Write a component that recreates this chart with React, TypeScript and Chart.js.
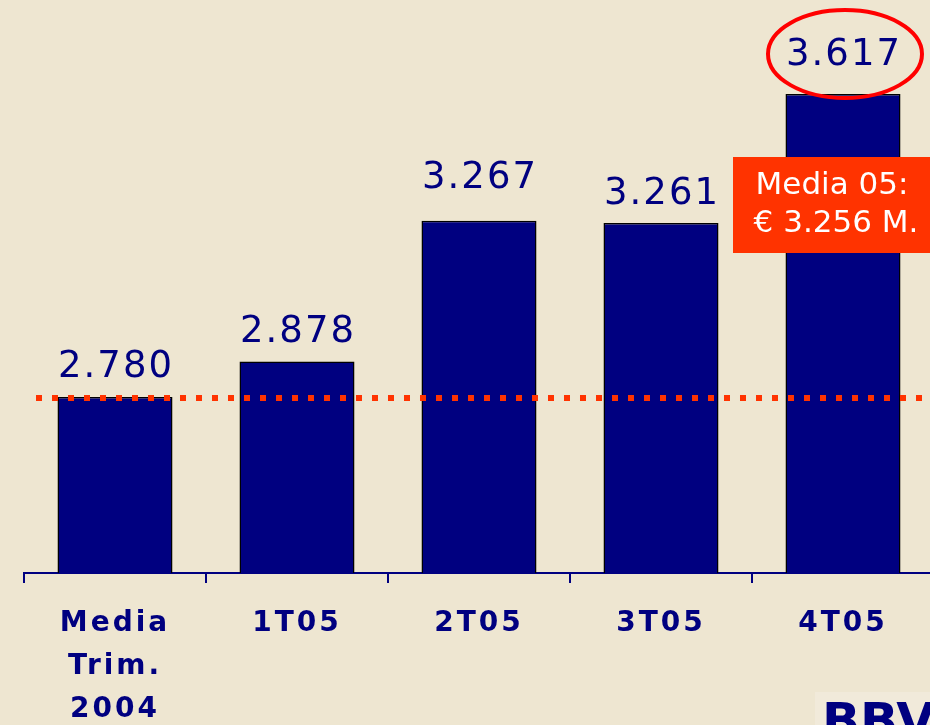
import React, { useEffect, useRef } from "react";
import { Chart, registerables } from "chart.js";

Chart.register(...registerables);

const categories: (string | string[])[] = [["Media", "Trim.", "2004"], "1T05", "2T05", "3T05", "4T05"];
const values: number[] = [2.78, 2.878, 3.267, 3.261, 3.617];
const valueLabels: string[] = ["2.780", "2.878", "3.267", "3.261", "3.617"];
const referenceLineValue = 2.78;
const noteLines: string[] = ["Media 05:", "€ 3.256 M."];
const highlightIndex = 4;
const logoText = "BBVA";

// label gap above each bar (px) – styling only
const labelGaps = [20, 20, 33, 19, 29];

const NAVY = "#000080";
const BG = "#EEE6D1";
const ORANGE = "#FF3300";

export default function App() {
  const ref = useRef<HTMLCanvasElement | null>(null);

  useEffect(() => {
    if (!ref.current) return;
    document.body.style.margin = "0";
    document.body.style.background = BG;

    const overlay = {
      id: "overlay",
      beforeDraw(chart: any) {
        const ctx = chart.ctx;
        ctx.save();
        ctx.fillStyle = BG;
        ctx.fillRect(0, 0, chart.width, chart.height);
        ctx.fillStyle = "#F1EADA";
        ctx.fillRect(815, 692, 140, 40);
        ctx.restore();
        (ctx as any).letterSpacing = "3px";
      },
      afterDatasetsDraw(chart: any) {
        const ctx = chart.ctx;
        const meta = chart.getDatasetMeta(0);
        const y = chart.scales.y;
        ctx.save();
        (ctx as any).letterSpacing = "2px";
        ctx.font = "37px 'DejaVu Sans'";
        ctx.fillStyle = NAVY;
        ctx.textAlign = "center";
        ctx.textBaseline = "alphabetic";
        meta.data.forEach((bar: any, i: number) => {
          ctx.fillText(valueLabels[i], bar.x + 1, bar.y - labelGaps[i]);
        });
        (ctx as any).letterSpacing = "0px";

        // reference dotted line
        const ly = y.getPixelForValue(referenceLineValue) + 1;
        ctx.strokeStyle = ORANGE;
        ctx.lineWidth = 6;
        ctx.setLineDash([6, 10]);
        ctx.beginPath();
        ctx.moveTo(36, ly);
        ctx.lineTo(chart.width, ly);
        ctx.stroke();
        ctx.setLineDash([]);

        // highlight ellipse
        const hb = meta.data[highlightIndex];
        ctx.strokeStyle = "#FF0000";
        ctx.lineWidth = 4;
        ctx.beginPath();
        ctx.ellipse(hb.x + 2, hb.y - 40, 77, 44, 0, 0, Math.PI * 2);
        ctx.stroke();

        // note box
        ctx.fillStyle = ORANGE;
        ctx.fillRect(733, 157, 220, 96);
        ctx.fillStyle = "#FFFFFF";
        ctx.font = "31px 'DejaVu Sans'";
        ctx.textAlign = "center";
        ctx.fillText(noteLines[0], 832, 194);
        ctx.fillText(noteLines[1], 836, 232);

        // logo
        ctx.fillStyle = NAVY;
        ctx.textAlign = "left";
        ctx.font = "bold 50px 'DejaVu Sans'";
        ctx.fillText(logoText, 822, 738);
        ctx.restore();
      },
    };

    const chart = new Chart(ref.current, {
      type: "bar",
      data: {
        labels: categories,
        datasets: [
          {
            data: values,
            backgroundColor: NAVY,
            borderColor: "#000000",
            borderWidth: 1.5,
            categoryPercentage: 1,
            barPercentage: 0.632,
          },
        ],
      },
      options: {
        animation: false,
        responsive: false,
        layout: { padding: { left: 24, right: 10, top: 0, bottom: 0 } },
        plugins: { legend: { display: false }, tooltip: { enabled: false } },
        scales: {
          y: {
            display: false,
            min: 2.2938,
            max: 3.8767,
          },
          x: {
            afterFit: (scale: any) => {
              scale.height = 152;
            },
            border: { display: true, color: NAVY, width: 2 },
            grid: {
              drawOnChartArea: false,
              drawTicks: true,
              tickLength: 10,
              color: NAVY,
              lineWidth: 2,
              offset: true,
            },
            ticks: {
              color: NAVY,
              padding: 19,
              maxRotation: 0,
              autoSkip: false,
              font: { family: "'DejaVu Sans'", size: 28, weight: "bold", lineHeight: 1.54 },
            },
          },
        },
      },
      plugins: [overlay],
    });
    return () => chart.destroy();
  }, []);

  return (
    <div style={{ position: "fixed", left: 0, top: 0, width: 930, height: 725, overflow: "hidden", background: BG }}>
      <canvas ref={ref} width={944} height={725} style={{ display: "block" }} />
    </div>
  );
}
